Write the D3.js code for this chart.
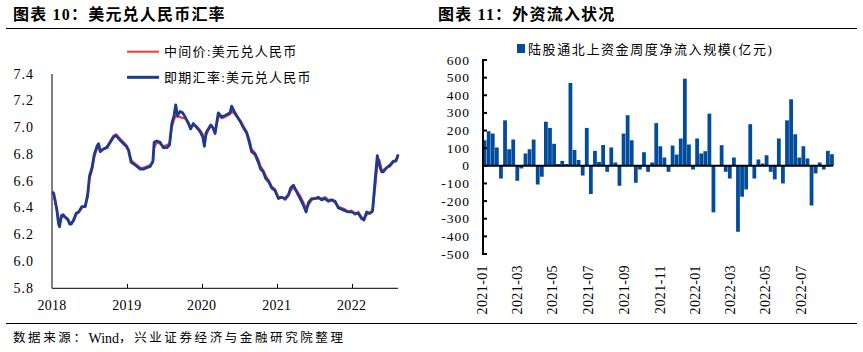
<!DOCTYPE html>
<html>
<head>
<meta charset="utf-8">
<script src="https://cdn.jsdelivr.net/npm/d3@7"></script>
<style>
body { margin: 0; background: #fff; }
svg { display: block; }
text { font-family: "Liberation Serif", "Noto Sans CJK SC", serif; fill: #000; }
</style>
</head>
<body>
<svg id="chart" width="863" height="352"></svg>
<script>
"use strict";

// ---------- data: 美元兑人民币 (left) ----------
const fxDates = ["2018-01-02","2018-01-09","2018-01-17","2018-01-25","2018-02-02","2018-02-07","2018-02-15","2018-02-24","2018-03-07","2018-03-20","2018-03-28","2018-04-05","2018-04-16","2018-04-29","2018-05-11","2018-05-27","2018-06-12","2018-06-24","2018-07-03","2018-07-15","2018-07-26","2018-08-08","2018-08-16","2018-08-24","2018-09-09","2018-09-26","2018-10-12","2018-10-28","2018-11-10","2018-11-21","2018-12-03","2018-12-16","2018-12-29",
  "2019-01-09","2019-01-22","2019-02-02","2019-02-19","2019-03-07","2019-03-23","2019-04-08","2019-04-25","2019-05-08","2019-05-14","2019-05-27","2019-06-12","2019-06-28","2019-07-15","2019-07-28","2019-08-08","2019-08-19","2019-08-27","2019-09-05","2019-09-18","2019-09-30","2019-10-12","2019-10-28","2019-11-08","2019-11-21","2019-12-08","2019-12-24",
  "2020-01-06","2020-01-14","2020-01-22","2020-02-02","2020-02-14","2020-02-24","2020-03-06","2020-03-22","2020-04-07","2020-04-24","2020-05-18","2020-05-26","2020-06-11","2020-06-27","2020-07-09","2020-07-22","2020-08-07","2020-08-20","2020-08-31","2020-09-17","2020-10-03","2020-10-14","2020-10-27","2020-11-08","2020-11-21","2020-12-07","2020-12-23",
  "2021-01-09","2021-01-25","2021-02-11","2021-02-27","2021-03-10","2021-03-23","2021-04-08","2021-04-25","2021-05-11","2021-05-24","2021-06-04","2021-06-20","2021-07-06","2021-07-23","2021-08-08","2021-08-24","2021-09-09","2021-09-26","2021-10-12","2021-10-28","2021-11-13","2021-11-29","2021-12-16",
  "2022-01-01","2022-01-17","2022-02-02","2022-02-19","2022-03-02","2022-03-15","2022-03-31","2022-04-13","2022-04-25","2022-05-06","2022-05-16","2022-05-27","2022-06-04","2022-06-20","2022-07-07","2022-07-23","2022-08-05","2022-08-16"];

// 即期汇率 (blue)
const fxSpot = [6.52,6.51,6.45,6.38,6.28,6.26,6.34,6.35,6.33,6.31,6.28,6.28,6.31,6.36,6.37,6.41,6.41,6.50,6.64,6.70,6.80,6.86,6.88,6.82,6.84,6.85,6.89,6.93,6.94,6.92,6.90,6.88,6.86,
  6.83,6.74,6.73,6.71,6.69,6.69,6.70,6.71,6.75,6.89,6.90,6.89,6.85,6.85,6.87,7.03,7.09,7.17,7.09,7.12,7.11,7.08,7.03,6.99,7.03,7.00,6.97,
  6.93,6.86,6.96,6.99,7.02,7.00,6.96,7.11,7.08,7.09,7.11,7.16,7.11,7.07,7.04,7.00,6.96,6.89,6.82,6.80,6.74,6.69,6.67,6.62,6.60,6.55,6.53,
  6.47,6.48,6.47,6.50,6.55,6.57,6.52,6.47,6.42,6.37,6.44,6.47,6.47,6.48,6.46,6.47,6.45,6.46,6.45,6.40,6.39,6.38,6.37,
  6.37,6.36,6.36,6.32,6.31,6.37,6.36,6.38,6.60,6.79,6.72,6.67,6.67,6.70,6.72,6.75,6.75,6.80];

// 中间价 (red)
const fxMid = [6.51,6.50,6.44,6.39,6.29,6.28,6.32,6.34,6.33,6.32,6.29,6.29,6.30,6.35,6.37,6.40,6.42,6.48,6.62,6.68,6.78,6.84,6.87,6.83,6.84,6.86,6.90,6.94,6.95,6.93,6.91,6.89,6.87,
  6.84,6.76,6.74,6.72,6.70,6.70,6.71,6.72,6.74,6.85,6.89,6.88,6.86,6.87,6.88,7.00,7.06,7.09,7.08,7.08,7.07,7.07,7.04,7.00,7.02,7.01,6.98,
  6.95,6.88,6.94,6.98,7.01,7.00,6.95,7.09,7.07,7.08,7.10,7.12,7.10,7.07,7.05,7.01,6.97,6.91,6.84,6.81,6.76,6.71,6.68,6.64,6.61,6.56,6.54,
  6.48,6.48,6.46,6.49,6.53,6.55,6.53,6.49,6.44,6.39,6.42,6.46,6.47,6.47,6.47,6.48,6.46,6.46,6.44,6.41,6.40,6.39,6.37,
  6.38,6.35,6.37,6.33,6.32,6.35,6.36,6.37,6.55,6.72,6.76,6.69,6.68,6.70,6.71,6.74,6.76,6.78];

const fxTicks = [5.8, 6.0, 6.2, 6.4, 6.6, 6.8, 7.0, 7.2, 7.4];
const fxYears = ["2018-01-01","2019-01-01","2020-01-01","2021-01-01","2022-01-01"];

// ---------- data: 陆股通北上资金周度净流入 (right), 亿元 ----------
const flowStart = "2021-01-01";
const flowValues = [145,196,183,104,-72,258,94,149,-85,-15,70,94,149,-106,-62,250,215,125,10,28,10,470,90,33,-55,215,-160,85,
  22,118,-34,104,19,-113,183,287,145,-96,-21,77,-34,19,242,111,47,-34,115,64,155,494,121,-21,155,70,83,296,-264,2,
  117,-34,-72,47,-374,-175,-134,236,-72,36,13,60,-34,-77,155,-100,258,377,179,47,111,42,-225,-43,19,-21,85,66];
const flowTicks = [-500,-400,-300,-200,-100,0,100,200,300,400,500,600];


const parse = d3.timeParse("%Y-%m-%d");
const svg = d3.select("#chart");

// frame: titles, rules, footer
svg.append("line").attr("x1", 6).attr("x2", 857).attr("y1", 28.5).attr("y2", 28.5)
  .attr("stroke", "#000").attr("stroke-width", 1);
svg.append("line").attr("x1", 6).attr("x2", 857).attr("y1", 323.5).attr("y2", 323.5)
  .attr("stroke", "#000").attr("stroke-width", 1);

svg.append("text").attr("x", 13).attr("y", 14).attr("dominant-baseline", "central")
  .attr("font-size", 16).attr("font-weight", "bold").attr("letter-spacing", 1.2)
  .text("图表 10：美元兑人民币汇率");
svg.append("text").attr("x", 438).attr("y", 14).attr("dominant-baseline", "central")
  .attr("font-size", 16).attr("font-weight", "bold").attr("letter-spacing", 1.2)
  .text("图表 11：外资流入状况");

// footer: spacing only on the CJK runs
const footer = svg.append("text").attr("x", 13).attr("y", 338).attr("dominant-baseline", "central")
  .attr("font-size", 12.5);
footer.append("tspan").attr("letter-spacing", 2.6).text("数据来源：");
footer.append("tspan").attr("font-size", 14).text("Wind");
footer.append("tspan").attr("letter-spacing", 2.6).text("，兴业证券经济与金融研究院整理");


// ---------- left chart ----------
const left = svg.append("g").attr("class", "left");

const xFx = d3.scaleTime()
  .domain([parse("2018-01-01"), parse("2022-08-15")])
  .range([52, 398]);
const yFx = d3.scaleLinear().domain([5.8, 7.4]).range([288.3, 74]);

// y labels
left.selectAll("text.ylab").data(fxTicks).join("text")
  .attr("class", "ylab")
  .attr("x", 34).attr("y", d => yFx(d))
  .attr("text-anchor", "end").attr("dominant-baseline", "central")
  .attr("font-size", 14).attr("letter-spacing", 1)
  .text(d3.format(".1f"));

// axes
left.append("line").attr("x1", 52).attr("x2", 52).attr("y1", 74).attr("y2", 288.3)
  .attr("stroke", "#000");
left.append("line").attr("x1", 52).attr("x2", 398).attr("y1", 288.3).attr("y2", 288.3)
  .attr("stroke", "#000");
left.selectAll("line.xtick").data(fxYears.slice(1)).join("line")
  .attr("class", "xtick")
  .attr("x1", d => Math.round(xFx(parse(d))) + 0.5).attr("x2", d => Math.round(xFx(parse(d))) + 0.5)
  .attr("y1", 284).attr("y2", 288.3).attr("stroke", "#000");
left.selectAll("text.xlab").data(fxYears).join("text")
  .attr("class", "xlab")
  .attr("x", d => xFx(parse(d))).attr("y", 305)
  .attr("text-anchor", "middle").attr("dominant-baseline", "central")
  .attr("font-size", 14).attr("letter-spacing", 0.3)
  .text(d => d.slice(0, 4));

// lines
const fxRows = fxDates.map((d, i) => ({ date: parse(d), spot: fxSpot[i], mid: fxMid[i] }));
const lineMid = d3.line().x(d => xFx(d.date)).y(d => yFx(d.mid));
const lineSpot = d3.line().x(d => xFx(d.date)).y(d => yFx(d.spot));

left.append("path").datum(fxRows).attr("d", lineMid)
  .attr("fill", "none").attr("stroke", "#F23A3A").attr("stroke-width", 2.2).attr("stroke-linejoin", "round");
left.append("path").datum(fxRows).attr("d", lineSpot)
  .attr("fill", "none").attr("stroke", "#1D3B8E").attr("stroke-width", 2.8).attr("stroke-linejoin", "round");

// legend
const fxLegend = [
  { label: "中间价:美元兑人民币", color: "#F23A3A", width: 2, y: 51.7 },
  { label: "即期汇率:美元兑人民币", color: "#1D3B8E", width: 3, y: 77.3 }
];
fxLegend.forEach(l => {
  left.append("line").attr("x1", 127).attr("x2", 159).attr("y1", l.y).attr("y2", l.y)
    .attr("stroke", l.color).attr("stroke-width", l.width);
  left.append("text").attr("x", 164).attr("y", l.y).attr("dominant-baseline", "central")
    .attr("font-size", 13).attr("letter-spacing", 1.3)
    .text(l.label);
});


// ---------- right chart ----------
const right = svg.append("g").attr("class", "right");

const weeks = flowValues.map((v, i) => ({ date: d3.timeDay.offset(parse(flowStart), 7 * i), value: v }));
const xFlow = d3.scaleTime()
  .domain([parse("2021-01-01"), parse("2022-08-24")])
  .range([482.7, 833]);
const yFlow = d3.scaleLinear().domain([-500, 600]).range([254, 60]);

// bars
right.selectAll("rect.bar").data(weeks).join("rect")
  .attr("class", "bar")
  .attr("x", d => xFlow(d.date))
  .attr("width", d => xFlow(d3.timeDay.offset(d.date, 7)) - xFlow(d.date) - 0.3)
  .attr("y", d => yFlow(Math.max(0, d.value)))
  .attr("height", d => Math.abs(yFlow(d.value) - yFlow(0)))
  .attr("fill", "#034C9C");

// zero line
right.append("line").attr("x1", 482.7).attr("x2", 833).attr("y1", yFlow(0)).attr("y2", yFlow(0))
  .attr("stroke", "#000").attr("stroke-width", 2);

// y axis
right.append("line").attr("x1", 483).attr("x2", 483).attr("y1", 59).attr("y2", 255)
  .attr("stroke", "#000").attr("stroke-width", 2);
right.selectAll("line.ytick").data(flowTicks).join("line")
  .attr("class", "ytick")
  .attr("x1", 483).attr("x2", 487).attr("y1", d => yFlow(d)).attr("y2", d => yFlow(d))
  .attr("stroke", "#000").attr("stroke-width", 2);
right.selectAll("text.ylab").data(flowTicks).join("text")
  .attr("class", "ylab")
  .attr("x", 470).attr("y", d => yFlow(d))
  .attr("text-anchor", "end").attr("dominant-baseline", "central")
  .attr("font-size", 13.5).attr("letter-spacing", 1)
  .text(d => String(d));

// x labels (rotated)
const monthTicks = d3.timeMonth.every(2).range(parse("2021-01-01"), parse("2022-08-01"));
right.selectAll("text.xlab").data(monthTicks).join("text")
  .attr("class", "xlab")
  .attr("transform", d => `translate(${xFlow(d)}, 265) rotate(-90)`)
  .attr("text-anchor", "end").attr("dominant-baseline", "central")
  .attr("font-size", 14).attr("letter-spacing", 0.4)
  .text(d3.timeFormat("%Y-%m"));

// legend
right.append("rect").attr("x", 517).attr("y", 44).attr("width", 8).attr("height", 9).attr("fill", "#034C9C");
right.append("text").attr("x", 528).attr("y", 49).attr("dominant-baseline", "central")
  .attr("font-size", 13).attr("letter-spacing", 1.6)
  .text("陆股通北上资金周度净流入规模(亿元)");
</script>
</body>
</html>
